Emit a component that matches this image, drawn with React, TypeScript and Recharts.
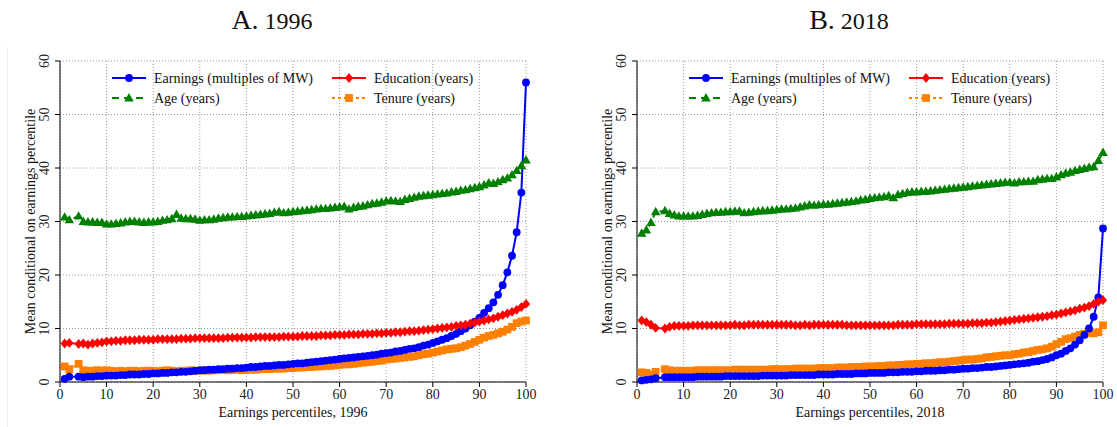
import React from "react";
import { CartesianGrid, Label, Line, LineChart, XAxis, YAxis } from "recharts";

// percentiles 1..100 (null = percentile not reported)
const PCT = Array.from({ length: 100 }, (_, i) => i + 1);
const X_TICKS = [0, 10, 20, 30, 40, 50, 60, 70, 80, 90, 100];
const Y_TICKS = [0, 10, 20, 30, 40, 50, 60];

const earn1996 = [
  0.6, 1.0, null, 1.0, 0.9, 1.0, 1.0, 1.1, 1.1, 1.2,
  1.2, 1.2, 1.3, 1.3, 1.4, 1.4, 1.4, 1.5, 1.5, 1.6,
  1.6, 1.7, 1.7, 1.8, 1.8, 1.9, 1.9, 2.0, 2.1, 2.2,
  2.2, 2.3, 2.3, 2.4, 2.4, 2.5, 2.5, 2.6, 2.6, 2.7,
  2.8, 2.8, 2.9, 3.0, 3.0, 3.1, 3.2, 3.2, 3.3, 3.4,
  3.5, 3.5, 3.6, 3.7, 3.8, 3.9, 4.0, 4.1, 4.2, 4.3,
  4.4, 4.5, 4.6, 4.7, 4.8, 4.9, 5.0, 5.1, 5.3, 5.4,
  5.5, 5.7, 5.8, 6.0, 6.2, 6.3, 6.5, 6.8, 7.0, 7.3,
  7.6, 7.9, 8.2, 8.6, 9.0, 9.5, 10.0, 10.6, 11.3, 12.0,
  12.9, 13.8, 14.9, 16.3, 18.1, 20.5, 23.6, 28.0, 35.4, 56.0,
];
const edu1996 = [
  7.2, 7.3, null, 7.1, 7.2, 7.0, 7.2, 7.3, 7.4, 7.6,
  7.6, 7.7, 7.7, 7.8, 7.8, 7.8, 7.9, 7.9, 7.9, 7.9,
  8.0, 8.0, 8.0, 8.0, 8.0, 8.1, 8.1, 8.1, 8.2, 8.2,
  8.2, 8.2, 8.2, 8.2, 8.2, 8.3, 8.3, 8.3, 8.3, 8.3,
  8.3, 8.4, 8.4, 8.4, 8.4, 8.4, 8.4, 8.5, 8.5, 8.5,
  8.5, 8.6, 8.6, 8.6, 8.6, 8.7, 8.7, 8.7, 8.8, 8.8,
  8.8, 8.9, 8.9, 8.9, 9.0, 9.0, 9.0, 9.1, 9.1, 9.2,
  9.2, 9.3, 9.3, 9.4, 9.5, 9.5, 9.6, 9.7, 9.8, 9.9,
  10.0, 10.1, 10.2, 10.3, 10.5, 10.6, 10.7, 10.9, 11.1, 11.3,
  11.5, 11.7, 11.9, 12.2, 12.5, 12.8, 13.1, 13.5, 14.0, 14.6,
];
const ten1996 = [
  2.9, 2.4, null, 3.4, 2.2, 2.1, 2.1, 2.2, 2.1, 2.2,
  2.1, 2.0, 2.1, 2.0, 2.1, 2.1, 2.0, 2.1, 2.1, 2.1,
  2.0, 2.1, 2.2, 2.1, 2.0, 2.1, 2.1, 2.2, 2.1, 2.1,
  2.2, 2.1, 2.2, 2.2, 2.3, 2.2, 2.3, 2.3, 2.2, 2.3,
  2.3, 2.3, 2.4, 2.4, 2.4, 2.5, 2.5, 2.5, 2.6, 2.6,
  2.7, 2.7, 2.8, 2.8, 2.9, 2.9, 3.0, 3.0, 3.1, 3.2,
  3.3, 3.3, 3.4, 3.5, 3.6, 3.7, 3.8, 3.9, 4.0, 4.2,
  4.3, 4.4, 4.5, 4.6, 4.7, 4.8, 5.0, 5.2, 5.3, 5.5,
  5.7, 5.9, 6.1, 6.2, 6.3, 6.5, 6.8, 7.1, 7.5, 7.9,
  8.3, 8.6, 8.8, 9.1, 9.4, 9.8, 10.3, 11.0, 11.3, 11.5,
];
const age1996 = [
  30.8, 30.3, null, 31.0, 30.0, 29.9, 29.9, 29.8, 29.8, 29.5,
  29.5, 29.6, 29.7, 29.9, 30.0, 30.0, 29.9, 29.8, 29.9, 29.9,
  30.0, 30.2, 30.3, 30.5, 31.3, 30.6, 30.5, 30.5, 30.4, 30.2,
  30.3, 30.3, 30.4, 30.6, 30.7, 30.8, 30.8, 30.9, 30.9, 31.0,
  31.1, 31.2, 31.3, 31.4, 31.5, 31.7, 31.8, 31.6, 31.7, 31.8,
  31.9, 32.0, 32.1, 32.2, 32.3, 32.4, 32.4, 32.5, 32.6, 32.7,
  32.8, 32.3, 32.6, 32.8, 32.9, 33.1, 33.3, 33.4, 33.6, 33.8,
  33.9, 33.8, 33.7, 34.1, 34.3, 34.5, 34.7, 34.8, 34.9, 35.0,
  35.1, 35.2, 35.3, 35.5, 35.6, 35.8, 35.9, 36.1, 36.3, 36.5,
  36.8, 37.2, 37.1, 37.4, 37.8, 38.1, 38.7, 39.5, 40.4, 41.5,
];

const earn2018 = [
  0.3, 0.4, 0.5, 0.7, null, 0.9, 0.9, 0.9, 0.9, 0.9,
  0.9, 0.9, 1.0, 1.0, 1.0, 1.0, 1.0, 1.0, 1.1, 1.1,
  1.1, 1.1, 1.1, 1.1, 1.1, 1.1, 1.2, 1.2, 1.2, 1.2,
  1.2, 1.2, 1.3, 1.3, 1.3, 1.3, 1.3, 1.3, 1.4, 1.4,
  1.4, 1.4, 1.5, 1.5, 1.5, 1.5, 1.6, 1.6, 1.6, 1.7,
  1.7, 1.7, 1.7, 1.8, 1.8, 1.8, 1.9, 1.9, 1.9, 2.0,
  2.0, 2.1, 2.1, 2.1, 2.2, 2.2, 2.3, 2.3, 2.4, 2.5,
  2.5, 2.6, 2.6, 2.7, 2.8, 2.8, 2.9, 3.0, 3.1, 3.2,
  3.3, 3.4, 3.5, 3.6, 3.8, 3.9, 4.1, 4.3, 4.6, 5.0,
  5.3, 5.8, 6.3, 7.0, 7.8, 8.8, 10.0, 12.2, 15.8, 28.7,
];
const edu2018 = [
  11.5, 11.2, 10.7, 10.1, null, 10.0, 10.3, 10.5, 10.5, 10.5,
  10.5, 10.6, 10.6, 10.6, 10.6, 10.6, 10.6, 10.6, 10.6, 10.6,
  10.7, 10.6, 10.6, 10.7, 10.7, 10.7, 10.7, 10.7, 10.7, 10.7,
  10.7, 10.7, 10.7, 10.6, 10.6, 10.7, 10.6, 10.7, 10.7, 10.7,
  10.7, 10.7, 10.7, 10.7, 10.6, 10.6, 10.6, 10.6, 10.6, 10.6,
  10.6, 10.6, 10.6, 10.6, 10.6, 10.7, 10.7, 10.7, 10.7, 10.8,
  10.8, 10.8, 10.8, 10.8, 10.8, 10.8, 10.9, 10.9, 10.9, 10.9,
  10.9, 11.0, 11.0, 11.0, 11.1, 11.1, 11.2, 11.3, 11.4, 11.5,
  11.6, 11.7, 11.8, 11.9, 12.0, 12.1, 12.2, 12.3, 12.5, 12.6,
  12.8, 13.0, 13.2, 13.4, 13.7, 13.9, 14.2, 14.6, 15.0, 15.3,
];
const ten2018 = [
  1.8, 1.7, 1.4, 1.9, null, 2.4, 2.2, 2.1, 2.1, 2.1,
  2.1, 2.1, 2.2, 2.2, 2.2, 2.2, 2.2, 2.2, 2.2, 2.2,
  2.3, 2.3, 2.3, 2.3, 2.3, 2.3, 2.3, 2.3, 2.4, 2.4,
  2.4, 2.4, 2.4, 2.5, 2.5, 2.5, 2.5, 2.5, 2.6, 2.6,
  2.6, 2.6, 2.7, 2.7, 2.7, 2.8, 2.8, 2.8, 2.9, 2.9,
  2.9, 3.0, 3.0, 3.1, 3.1, 3.2, 3.2, 3.3, 3.3, 3.4,
  3.4, 3.5, 3.5, 3.6, 3.7, 3.7, 3.8, 3.9, 4.0, 4.1,
  4.2, 4.2, 4.3, 4.4, 4.6, 4.7, 4.8, 4.9, 5.0, 5.0,
  5.2, 5.3, 5.5, 5.6, 5.8, 6.0, 6.1, 6.3, 6.6, 7.1,
  7.5, 8.0, 8.2, 8.5, 8.8, 9.0, 9.2, 9.1, 9.3, 10.6,
];
const age2018 = [
  27.8, 28.4, 29.8, 31.8, null, 32.0, 31.5, 31.2, 31.0, 31.0,
  31.0, 31.0, 31.1, 31.3, 31.5, 31.6, 31.7, 31.7, 31.8, 31.8,
  31.9, 31.9, 31.6, 31.7, 31.8, 31.9, 32.0, 32.0, 32.1, 32.2,
  32.3, 32.3, 32.4, 32.5, 32.7, 32.9, 33.1, 33.0, 33.1, 33.2,
  33.2, 33.3, 33.4, 33.5, 33.6, 33.7, 33.8, 34.0, 34.1, 34.3,
  34.4, 34.5, 34.6, 34.8, 34.4, 35.0, 35.2, 35.4, 35.5, 35.5,
  35.6, 35.6, 35.7, 35.8, 35.9, 36.0, 36.1, 36.2, 36.3, 36.4,
  36.5, 36.6, 36.7, 36.8, 36.9, 37.0, 37.1, 37.2, 37.3, 37.3,
  37.2, 37.4, 37.4, 37.5, 37.5, 37.8, 37.9, 38.0, 38.0, 38.3,
  38.7, 39.0, 39.2, 39.5, 39.7, 39.9, 40.1, 40.2, 41.4, 42.9,
];

const FONT = "'Liberation Serif', 'Times New Roman', serif";
const BLUE = "#0000ff";
const RED = "#ff0000";
const GREEN = "#008000";
const ORANGE = "#ff8000";

type Shape = "circle" | "diamond" | "triangle" | "square";

function Marker({ shape, x, y, color }: { shape: Shape; x: number; y: number; color: string }) {
  if (shape === "circle") return <circle cx={x} cy={y} r={3.9} fill={color} />;
  if (shape === "diamond")
    return <polygon points={`${x},${y - 4.9} ${x + 4.1},${y} ${x},${y + 4.9} ${x - 4.1},${y}`} fill={color} />;
  if (shape === "triangle")
    return <polygon points={`${x},${y - 5} ${x + 4.8},${y + 3.4} ${x - 4.8},${y + 3.4}`} fill={color} />;
  return <rect x={x - 3.9} y={y - 3.9} width={7.8} height={7.8} fill={color} />;
}

const makeDot = (shape: Shape, color: string) => (props: any) => {
  const { cx, cy, index, value } = props;
  if (value == null || cx == null || cy == null || isNaN(cy)) return <g key={`d-${index}`} />;
  return (
    <g key={`d-${index}`}>
      <Marker shape={shape} x={cx} y={cy} color={color} />
    </g>
  );
};

const YTick = ({ x, y, payload }: any) => (
  <text
    x={x - 9}
    y={y}
    transform={`rotate(-90 ${x - 9} ${y})`}
    textAnchor="middle"
    dominantBaseline="central"
    fontFamily={FONT}
    fontSize={14}
    fill="#222"
  >
    {payload.value}
  </text>
);

const YTitle = ({ viewBox }: any) => {
  const cx = viewBox.x + viewBox.width - 30;
  const cy = viewBox.y + viewBox.height / 2;
  return (
    <text
      x={cx}
      y={cy}
      transform={`rotate(-90 ${cx} ${cy})`}
      textAnchor="middle"
      dominantBaseline="central"
      fontFamily={FONT}
      fontSize={14}
      fill="#111"
    >
      Mean conditional on earnings percentile
    </text>
  );
};

const LEGEND: { name: string; color: string; shape: Shape; dash?: string; col: number; row: number }[] = [
  { name: "Earnings (multiples of MW)", color: BLUE, shape: "circle", col: 0, row: 0 },
  { name: "Education (years)", color: RED, shape: "diamond", col: 1, row: 0 },
  { name: "Age (years)", color: GREEN, shape: "triangle", dash: "7 5", col: 0, row: 1 },
  { name: "Tenure (years)", color: ORANGE, shape: "square", dash: "3 3", col: 1, row: 1 },
];

function Panel({
  left,
  width,
  plotLeft,
  title,
  year,
  earn,
  edu,
  ten,
  age,
}: {
  left: number;
  width: number;
  plotLeft: number;
  title: string;
  year: string;
  earn: (number | null)[];
  edu: (number | null)[];
  ten: (number | null)[];
  age: (number | null)[];
}) {
  const data = PCT.map((p, i) => ({ p, earn: earn[i], edu: edu[i], ten: ten[i], age: age[i] }));
  const plotRight = plotLeft + 466;
  const titleX = plotLeft + 212;
  const colX = [plotLeft + 52, plotLeft + 272];
  const rowY = [78, 98];
  return (
    <div style={{ position: "absolute", left, top: 0, width, height: 427 }}>
      <LineChart
        width={width}
        height={427}
        data={data}
        margin={{ top: 61, right: width - plotRight, bottom: 0, left: plotLeft - 50 }}
      >
        <CartesianGrid stroke="#9a9a9a" strokeDasharray="1 2" />
        <XAxis
          dataKey="p"
          type="number"
          domain={[0, 100]}
          ticks={X_TICKS}
          height={45}
          stroke="#000"
          tickSize={5}
          tick={{ fontFamily: FONT, fontSize: 14, fill: "#222" }}
          interval={0}
        >
          <Label
            value={`Earnings percentiles, ${year}`}
            position="insideBottom"
            offset={10}
            style={{ fontFamily: FONT, fontSize: 14, fill: "#111" }}
          />
        </XAxis>
        <YAxis
          type="number"
          domain={[0, 60]}
          ticks={Y_TICKS}
          width={50}
          stroke="#000"
          tickSize={5}
          tick={<YTick />}
          interval={0}
        >
          <Label content={<YTitle />} />
        </YAxis>
        <YAxis yAxisId="r" orientation="right" width={0} stroke="#777" tick={false} tickLine={false} />
        <Line dataKey="ten" stroke={ORANGE} strokeWidth={2} strokeDasharray="2 3" dot={makeDot("square", ORANGE)} connectNulls isAnimationActive={false} />
        <Line dataKey="earn" stroke={BLUE} strokeWidth={2} dot={makeDot("circle", BLUE)} connectNulls isAnimationActive={false} />
        <Line dataKey="edu" stroke={RED} strokeWidth={2} dot={makeDot("diamond", RED)} connectNulls isAnimationActive={false} />
        <Line dataKey="age" stroke={GREEN} strokeWidth={2} strokeDasharray="6 4" dot={makeDot("triangle", GREEN)} connectNulls isAnimationActive={false} />
      </LineChart>
      <svg
        width={width}
        height={427}
        style={{ position: "absolute", left: 0, top: 0, pointerEvents: "none" }}
      >
        <text x={titleX} y={29} textAnchor="middle" fontFamily={FONT} fill="#111">
          <tspan fontSize={28}>{title}</tspan>
          <tspan fontSize={24}> {year}</tspan>
        </text>
        {LEGEND.map((l) => {
          const x0 = colX[l.col];
          const y = rowY[l.row];
          return (
            <g key={l.name}>
              <line x1={x0} x2={x0 + 34} y1={y} y2={y} stroke={l.color} strokeWidth={2} strokeDasharray={l.dash} />
              <Marker shape={l.shape} x={x0 + 17} y={y} color={l.color} />
              <text x={x0 + 42} y={y} dominantBaseline="central" fontFamily={FONT} fontSize={14} fill="#111">
                {l.name}
              </text>
            </g>
          );
        })}
      </svg>
    </div>
  );
}

export default function App() {
  return (
    <div style={{ position: "absolute", left: 0, top: 0, width: 1117, height: 427, background: "#fff" }}>
      <div style={{ position: "absolute", left: 7, top: 47, width: 1, height: 380, background: "#eee" }} />
      <Panel left={0} width={558} plotLeft={60} title="A." year="1996" earn={earn1996} edu={edu1996} ten={ten1996} age={age1996} />
      <Panel left={558} width={559} plotLeft={79} title="B." year="2018" earn={earn2018} edu={edu2018} ten={ten2018} age={age2018} />
    </div>
  );
}
